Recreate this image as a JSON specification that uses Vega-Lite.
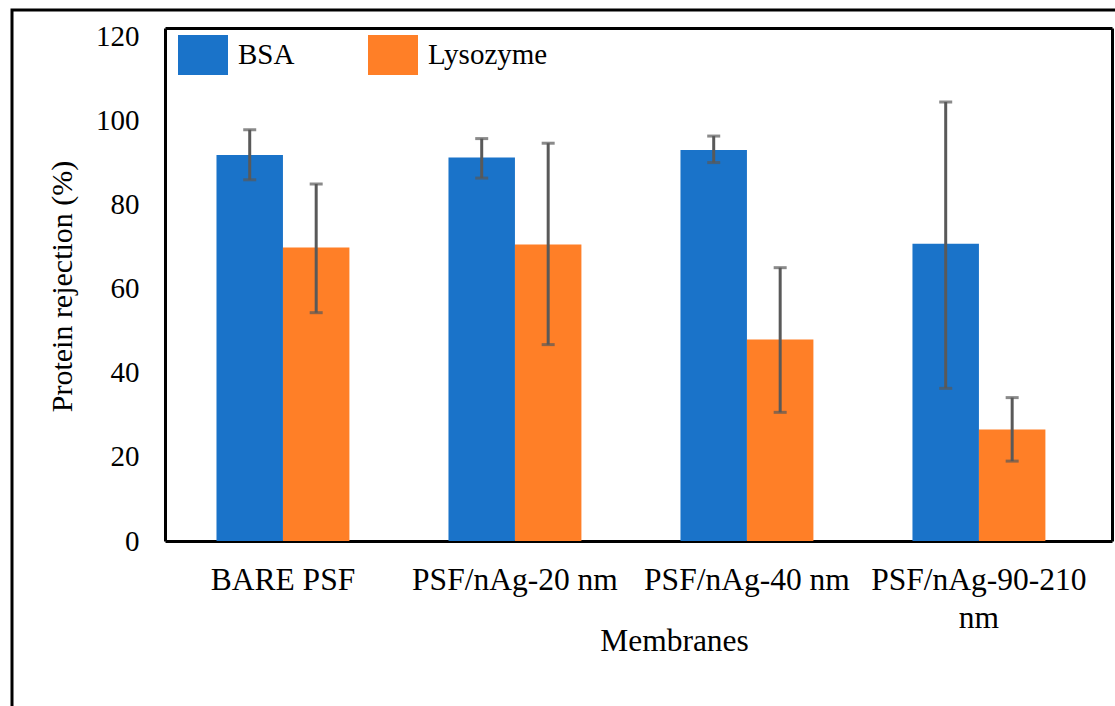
{
  "$schema": "https://vega.github.io/schema/vega-lite/v6.json",
  "width": 1110,
  "height": 705,
  "autosize": {"type": "none"},
  "padding": {"left": 12, "top": 10, "right": 0, "bottom": 0},
  "background": "white",
  "config": {
    "view": {"stroke": "black", "strokeWidth": 3},
    "font": "Liberation Serif",
    "axis": {
      "domainColor": "black",
      "domainWidth": 3,
      "ticks": false,
      "grid": false,
      "labelFont": "Liberation Serif",
      "labelFontSize": 29,
      "labelColor": "black",
      "titleFont": "Liberation Serif",
      "titleFontSize": 30,
      "titleFontWeight": "normal",
      "titleColor": "black"
    },
    "legend": {
      "orient": "none",
      "legendX": 171,
      "legendY": 25,
      "direction": "horizontal",
      "padding": 0,
      "symbolType": "M-1.25,-1H1.25V1H-1.25Z",
      "symbolSize": 1600,
      "symbolStrokeWidth": 0,
      "labelFont": "Liberation Serif",
      "labelFontSize": 29,
      "labelColor": "black",
      "labelOffset": 15,
      "columnPadding": 73
    }
  },
  "data": {
    "values": [
      {"membrane": "BARE PSF", "protein": "BSA", "value": 91.8, "lo": 85.9, "hi": 97.8},
      {"membrane": "BARE PSF", "protein": "Lysozyme", "value": 69.8, "lo": 54.3, "hi": 84.9},
      {"membrane": "PSF/nAg-20 nm", "protein": "BSA", "value": 91.2, "lo": 86.3, "hi": 95.7},
      {"membrane": "PSF/nAg-20 nm", "protein": "Lysozyme", "value": 70.5, "lo": 46.7, "hi": 94.6},
      {"membrane": "PSF/nAg-40 nm", "protein": "BSA", "value": 93.0, "lo": 90.0, "hi": 96.3},
      {"membrane": "PSF/nAg-40 nm", "protein": "Lysozyme", "value": 47.9, "lo": 30.6, "hi": 65.0},
      {"membrane": "PSF/nAg-90-210 nm", "protein": "BSA", "value": 70.7, "lo": 36.3, "hi": 104.4},
      {"membrane": "PSF/nAg-90-210 nm", "protein": "Lysozyme", "value": 26.5, "lo": 19.0, "hi": 34.1}
    ]
  },
  "resolve": {"axis": {"x": "independent", "y": "independent"}},
  "layer": [
    {
      "mark": {"type": "bar"},
      "encoding": {
        "x": {
          "field": "membrane",
          "type": "nominal",
          "sort": null,
          "scale": {"range": [153, 1100], "paddingInner": 0.427, "paddingOuter": 0.2545, "align": 0.436},
          "axis": {
            "orient": "bottom",
            "offset": -174,
            "labelAngle": 0,
            "labelFontSize": 31.5,
            "labelPadding": 23,
            "labelLineHeight": 38,
            "labelLimit": 400,
            "labelExpr": "datum.value == 'PSF/nAg-90-210 nm' ? ['PSF/nAg-90-210', 'nm'] : datum.label",
            "title": "Membranes",
            "titleFontSize": 31.5,
            "titleX": 662,
            "titleY": 100,
            "titleBaseline": "middle"
          }
        },
        "xOffset": {"field": "protein", "type": "nominal", "scale": {"paddingInner": 0, "paddingOuter": 0}},
        "y": {
          "field": "value",
          "type": "quantitative",
          "scale": {"domain": [0, 122], "range": [531, 18], "nice": false},
          "axis": {
            "orient": "left",
            "offset": -153,
            "values": [0, 20, 40, 60, 80, 100, 120],
            "labelPadding": 26,
            "title": "Protein rejection (%)",
            "titleX": -103,
            "titleY": 276,
            "titleBaseline": "middle"
          }
        },
        "color": {
          "field": "protein",
          "type": "nominal",
          "scale": {"domain": ["BSA", "Lysozyme"], "range": ["#1a73c9", "#ff7f27"]},
          "legend": {"title": null}
        }
      }
    },
    {
      "mark": {"type": "rule", "color": "#595959", "strokeWidth": 3},
      "encoding": {
        "x": {"field": "membrane", "type": "nominal", "sort": null, "axis": {"orient": "top", "offset": -18, "labels": false, "title": null}},
        "xOffset": {"field": "protein", "type": "nominal"},
        "y": {"field": "lo", "type": "quantitative", "axis": {"orient": "right", "offset": -10, "labels": false, "title": null}},
        "y2": {"field": "hi"}
      }
    },
    {
      "mark": {"type": "tick", "color": "#595959", "thickness": 3, "size": 13},
      "encoding": {
        "x": {"field": "membrane", "type": "nominal", "sort": null, "axis": null},
        "xOffset": {"field": "protein", "type": "nominal"},
        "y": {"field": "lo", "type": "quantitative", "axis": null}
      }
    },
    {
      "mark": {"type": "tick", "color": "#595959", "thickness": 3, "size": 13},
      "encoding": {
        "x": {"field": "membrane", "type": "nominal", "sort": null, "axis": null},
        "xOffset": {"field": "protein", "type": "nominal"},
        "y": {"field": "hi", "type": "quantitative", "axis": null}
      }
    }
  ]
}
